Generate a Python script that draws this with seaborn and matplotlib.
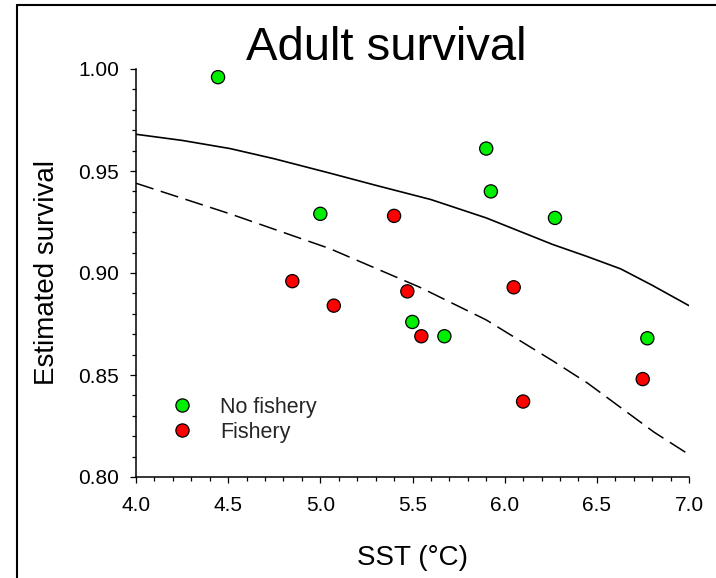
import matplotlib
matplotlib.use("Agg")
import matplotlib.pyplot as plt
from matplotlib.lines import Line2D
from matplotlib.ticker import MultipleLocator, FormatStrFormatter
import seaborn as sns
import pandas as pd

# ---- data ----
nofish_sst = [4.445, 5.00, 5.90, 5.925, 6.273, 5.499, 5.673, 6.774]
nofish_surv = [0.996, 0.929, 0.961, 0.940, 0.927, 0.876, 0.869, 0.868]

fish_sst = [4.848, 5.073, 5.400, 5.472, 5.548, 6.049, 6.100, 6.749]
fish_surv = [0.896, 0.884, 0.928, 0.891, 0.869, 0.893, 0.837, 0.848]

solid_x = [4.0, 4.25, 4.51, 4.75, 5.05, 5.30, 5.60, 5.90, 6.26, 6.45, 6.63, 6.80, 7.0]
solid_y = [0.968, 0.965, 0.961, 0.956, 0.949, 0.943, 0.936, 0.927, 0.914, 0.908, 0.902, 0.894, 0.884]

dashed_x = [4.0, 4.51, 5.05, 5.54, 5.72, 5.90, 6.08, 6.26, 6.45, 6.63, 6.81, 7.0]
dashed_y = [0.944, 0.929, 0.912, 0.893, 0.885, 0.877, 0.867, 0.857, 0.846, 0.834, 0.822, 0.811]

groups = ["No fishery", "Fishery"]
colors = ["#00ee00", "#ff0000"]

pts = pd.DataFrame({
    "SST": nofish_sst + fish_sst,
    "Survival": nofish_surv + fish_surv,
    "Group": [groups[0]] * len(nofish_sst) + [groups[1]] * len(fish_sst),
})
solid = pd.DataFrame({"SST": solid_x, "Survival": solid_y})
dashed = pd.DataFrame({"SST": dashed_x, "Survival": dashed_y})

sns.set_style("ticks")
plt.rcParams["font.family"] = ["Liberation Sans", "DejaVu Sans"]

fig = plt.figure(figsize=(7.16, 5.78), dpi=100)
ax = fig.add_axes([136 / 716, 1 - 477 / 578, 553 / 716, 408 / 578])

sns.lineplot(data=solid, x="SST", y="Survival", ax=ax, color="black",
             lw=1.2, sort=False, estimator=None)
sns.lineplot(data=dashed, x="SST", y="Survival", ax=ax, color="black",
             lw=1.1, sort=False, estimator=None)
ax.lines[-1].set_dashes([12, 5])

sns.scatterplot(data=pts, x="SST", y="Survival", hue="Group",
                hue_order=groups, palette=colors, s=90,
                edgecolor="black", linewidth=0.9, ax=ax, zorder=5,
                clip_on=False)

ax.set_xlim(4.0, 7.0)
ax.set_ylim(0.80, 1.00)
ax.xaxis.set_major_locator(MultipleLocator(0.5))
ax.xaxis.set_minor_locator(MultipleLocator(0.1))
ax.yaxis.set_major_locator(MultipleLocator(0.05))
ax.yaxis.set_minor_locator(MultipleLocator(0.01))
ax.xaxis.set_major_formatter(FormatStrFormatter("%.1f"))
ax.yaxis.set_major_formatter(FormatStrFormatter("%.2f"))

for s in ["top", "right"]:
    ax.spines[s].set_visible(False)
for s in ["left", "bottom"]:
    ax.spines[s].set_linewidth(1.1)
    ax.spines[s].set_color("black")

ax.tick_params(axis="both", which="major", direction="out", length=4.3,
               width=0.9, color="black", labelsize=15, labelcolor="black")
ax.tick_params(axis="both", which="minor", direction="out", length=3.0,
               width=0.9, color="black")
ax.tick_params(axis="x", which="major", pad=9.5)
ax.tick_params(axis="y", which="major", pad=8.0)

ax.set_xlabel("SST (°C)", fontsize=20, color="black")
ax.set_ylabel("Estimated survival", fontsize=20, color="black")
ax.xaxis.set_label_coords(0.5, (477 - 565) / 408)
ax.xaxis.label.set_va("baseline")
ax.yaxis.set_label_coords((47 - 136) / 553, 0.5)
ax.yaxis.label.set_va("center")

leg = ax.legend(loc="center left", bbox_to_anchor=(0.045, 0.140),
                frameon=False, fontsize=15.5, borderaxespad=0, borderpad=0,
                labelspacing=0.2, handletextpad=0.75, handlelength=2.0)
for h in leg.legend_handles:
    h.set_markeredgecolor("black")
    h.set_markersize(9.5)
    h.set_markeredgewidth(0.9)

fig.text(386 / 716, 1 - 60 / 578, "Adult survival", fontsize=34,
         ha="center", va="baseline", color="black")

# outer frame
fig.add_artist(Line2D([16.5 / 716, 16.5 / 716], [-0.05, 1 - 4.5 / 578],
                      transform=fig.transFigure, color="black", lw=1.5))
fig.add_artist(Line2D([16.5 / 716, 1.05], [1 - 4.5 / 578, 1 - 4.5 / 578],
                      transform=fig.transFigure, color="black", lw=1.5))

fig.savefig("out.png", dpi=100)
